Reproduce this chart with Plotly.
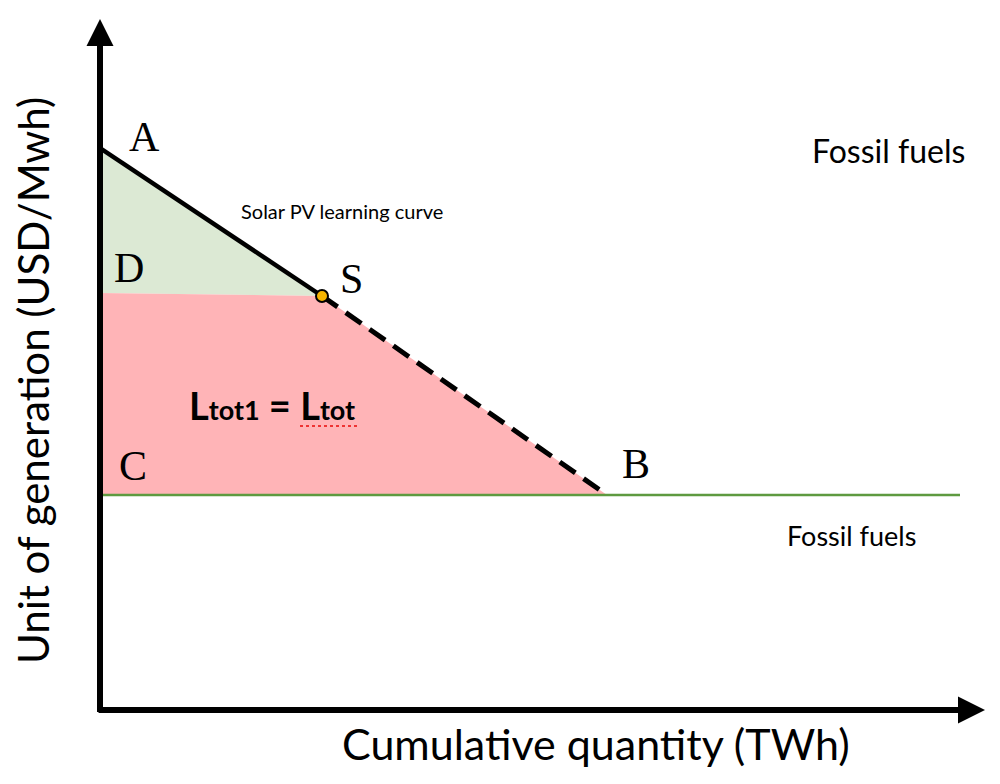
import plotly.graph_objects as go

# Conceptual data (quantity, cost units)
point_names = ["A", "S", "B", "C", "D"]
point_x = [0.0, 22.2, 50.7, 0.0, 0.0]
point_y = [56.2, 41.4, 21.5, 21.5, 41.7]
fossil_cost = 21.5
fossil_x = [0.0, 86.0]

A = (point_x[0], point_y[0]); S = (point_x[1], point_y[1]); B = (point_x[2], point_y[2])
C = (point_x[3], point_y[3]); D = (point_x[4], point_y[4])

fig = go.Figure()

# green triangle A-S-D
fig.add_trace(go.Scatter(x=[A[0], S[0], D[0], A[0]], y=[A[1], S[1], D[1], A[1]],
                         fill="toself", fillcolor="#dce9d4", mode="none", hoverinfo="skip"))
# pink region D-S-B-C
fig.add_trace(go.Scatter(x=[D[0], S[0], B[0], C[0], D[0]], y=[D[1], S[1], B[1], C[1], D[1]],
                         fill="toself", fillcolor="#ffb4b7", mode="none", hoverinfo="skip"))
# fossil fuel line
fig.add_trace(go.Scatter(x=fossil_x, y=[fossil_cost, fossil_cost], mode="lines",
                         line=dict(color="#5e9a40", width=2.5), hoverinfo="skip"))
# learning curve solid part A-S
fig.add_trace(go.Scatter(x=[A[0], S[0]], y=[A[1], S[1]], mode="lines",
                         line=dict(color="black", width=4.5), hoverinfo="skip"))
# dashed part S-B
fig.add_trace(go.Scatter(x=[S[0], B[0]], y=[S[1], B[1]], mode="lines",
                         line=dict(color="black", width=5, dash="19px,10px"), hoverinfo="skip"))
# S point
fig.add_trace(go.Scatter(x=[S[0]], y=[S[1]], mode="markers",
                         marker=dict(size=12, color="#f5b400", line=dict(color="black", width=2)),
                         hoverinfo="skip"))

# axes arrows
fig.add_annotation(x=0, y=69.1, ax=0, ay=-0.35, xref="x", yref="y", axref="x", ayref="y",
                   showarrow=True, arrowhead=2, arrowsize=0.9, arrowwidth=6, arrowcolor="black",
                   text="", standoff=0)
fig.add_annotation(x=1.0291, y=0, xref="paper", yref="y", ax=-888, ay=0,
                   showarrow=True, arrowhead=2, arrowsize=0.9, arrowwidth=6, arrowcolor="black",
                   text="", standoff=0)

# spell-check style red dotted underline under the second "Ltot"
fig.add_shape(type="line", xref="paper", yref="paper", x0=(300 - 100) / 860, x1=(357 - 100) / 860,
              y0=(710 - 426) / 692, y1=(710 - 426) / 692,
              line=dict(color="#ee3333", width=2, dash="dot"))

serif = "Liberation Serif, Times New Roman, serif"
sans = "Lato, Open Sans, sans-serif"
letters = [("A", 4.4, 57.3), ("D", 2.9, 44.2), ("S", 25.1, 43.1), ("C", 3.3, 24.4), ("B", 53.6, 24.6)]
for t, lx, ly in letters:
    fig.add_annotation(x=lx, y=ly, text=t, showarrow=False, font=dict(family=serif, size=42, color="black"))

fig.add_annotation(x=24.2, y=49.9, text="Solar PV learning curve", showarrow=False,
                   font=dict(family=sans, size=20, color="black"))
fig.add_annotation(x=78.8, y=56.0, text="Fossil fuels", showarrow=False,
                   font=dict(family=sans, size=32, color="black"))
fig.add_annotation(x=75.1, y=17.5, text="Fossil fuels", showarrow=False,
                   font=dict(family=sans, size=27, color="black"))
fig.add_annotation(x=17.2, y=30.5,
                   text="<b>L<span style='font-size:27px'>tot1</span> = L<span style='font-size:27px'>tot</span></b>",
                   showarrow=False, font=dict(family=sans, size=38, color="black"))

fig.add_annotation(x=(33 - 100) / 860, y=(710 - 381) / 692, xref="paper", yref="paper",
                   xanchor="center", yanchor="middle",
                   text="Unit of generation (USD/Mwh)", textangle=-90, showarrow=False,
                   font=dict(family=sans, size=42, color="black"))
fig.add_annotation(x=(596 - 100) / 860, y=(710 - 743) / 692, xref="paper", yref="paper",
                   xanchor="center", yanchor="middle",
                   text="Cumulative quantity (TWh)", showarrow=False,
                   font=dict(family=sans, size=43, color="black"))

fig.update_layout(
    width=1000, height=784,
    margin=dict(l=92, r=48, t=10, b=82),
    paper_bgcolor="white", plot_bgcolor="white",
    showlegend=False,
    xaxis=dict(range=[0, 86], visible=False, fixedrange=True),
    yaxis=dict(range=[0, 69.2], visible=False, fixedrange=True),
)

fig.write_html("out.html")
